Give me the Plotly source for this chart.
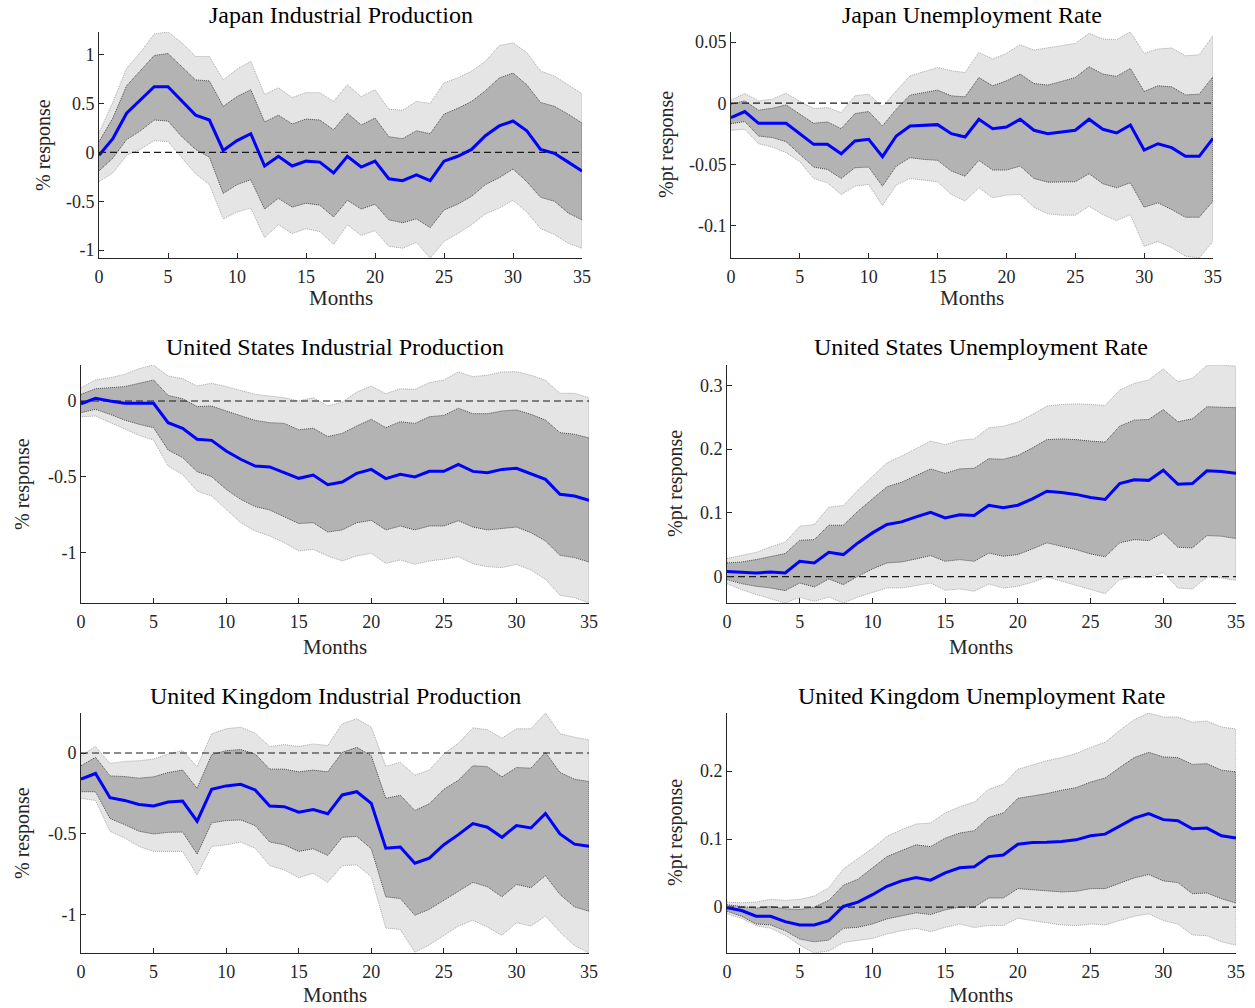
import plotly.graph_objects as go

months = list(range(36))
x_ticks = [0, 5, 10, 15, 20, 25, 30, 35]

# ---------------- Japan Industrial Production ----------------
jp_ip_med = [-0.03,0.14,0.40,0.53,0.67,0.67,0.52,0.38,0.33,0.02,0.12,0.19,-0.14,-0.04,-0.14,-0.09,-0.10,-0.21,-0.04,-0.15,-0.09,-0.27,-0.29,-0.23,-0.29,-0.09,-0.04,0.03,0.17,0.27,0.32,0.22,0.03,-0.01,-0.10,-0.19]
jp_ip_in_hi = [0.11,0.35,0.68,0.83,0.99,1.01,0.87,0.74,0.73,0.47,0.57,0.64,0.31,0.38,0.29,0.34,0.33,0.23,0.40,0.28,0.35,0.16,0.14,0.22,0.19,0.39,0.45,0.52,0.63,0.76,0.81,0.69,0.51,0.47,0.39,0.30]
jp_ip_in_lo = [-0.19,-0.06,0.13,0.22,0.33,0.32,0.16,0.03,-0.05,-0.42,-0.33,-0.28,-0.58,-0.47,-0.56,-0.52,-0.54,-0.66,-0.49,-0.58,-0.53,-0.69,-0.72,-0.68,-0.77,-0.59,-0.53,-0.45,-0.33,-0.26,-0.17,-0.30,-0.46,-0.50,-0.62,-0.69]
jp_ip_out_hi = [0.20,0.51,0.86,1.02,1.21,1.23,1.12,0.98,0.98,0.74,0.85,0.93,0.59,0.66,0.56,0.61,0.61,0.52,0.69,0.57,0.64,0.44,0.43,0.52,0.50,0.71,0.76,0.83,0.93,1.09,1.12,1.02,0.83,0.78,0.69,0.60]
jp_ip_out_lo = [-0.30,-0.21,-0.03,0.03,0.12,0.11,-0.06,-0.22,-0.33,-0.68,-0.61,-0.57,-0.87,-0.74,-0.83,-0.78,-0.81,-0.94,-0.74,-0.85,-0.80,-0.96,-0.98,-0.92,-1.08,-0.91,-0.83,-0.74,-0.63,-0.57,-0.49,-0.61,-0.78,-0.84,-0.93,-0.98]
jp_ip_yticks = [-1, -0.5, 0, 0.5, 1]
jp_ip_ylabels = ["-1", "-0.5", "0", "0.5", "1"]

# ---------------- Japan Unemployment Rate ----------------
jp_ur_med = [-0.0117,-0.0068,-0.0164,-0.0164,-0.0164,-0.0249,-0.0336,-0.0336,-0.0413,-0.0309,-0.0295,-0.0437,-0.0268,-0.0186,-0.018,-0.0175,-0.0249,-0.0276,-0.0131,-0.0208,-0.0194,-0.0131,-0.0221,-0.0249,-0.0235,-0.0221,-0.0131,-0.0213,-0.0243,-0.0178,-0.0383,-0.0331,-0.0363,-0.0434,-0.0434,-0.0287]
jp_ur_in_hi = [-0.0008,0.0019,-0.0057,-0.0041,-0.0014,-0.009,-0.0164,-0.0153,-0.0208,-0.0085,-0.0068,-0.0186,-0.0049,0.0066,0.0087,0.0107,0.006,0.0052,0.021,0.0142,0.0183,0.0238,0.0161,0.0148,0.0178,0.021,0.0298,0.0238,0.0219,0.0284,0.0096,0.0142,0.0134,0.0068,0.0074,0.0216]
jp_ur_in_lo = [-0.0167,-0.015,-0.0268,-0.0281,-0.0314,-0.0418,-0.0522,-0.0541,-0.0615,-0.0527,-0.0522,-0.0678,-0.0514,-0.0445,-0.0459,-0.0467,-0.0555,-0.0596,-0.0467,-0.0546,-0.0546,-0.0514,-0.0615,-0.0645,-0.0642,-0.0642,-0.0576,-0.0658,-0.0691,-0.065,-0.085,-0.0814,-0.0869,-0.0932,-0.0932,-0.080]
jp_ur_out_hi = [0.0025,0.0079,0.0019,0.0033,0.0082,0.0014,-0.0044,-0.0036,-0.0077,0.006,0.0074,-0.003,0.0101,0.0224,0.0257,0.0292,0.0265,0.0251,0.0415,0.0361,0.0407,0.0478,0.0434,0.0451,0.047,0.0489,0.0571,0.0525,0.0519,0.0582,0.0407,0.0443,0.0451,0.0388,0.0396,0.0552]
jp_ur_out_lo = [-0.0221,-0.0213,-0.0331,-0.0358,-0.0404,-0.0478,-0.0615,-0.065,-0.0746,-0.0678,-0.0664,-0.0836,-0.0669,-0.0615,-0.0631,-0.0642,-0.0746,-0.080,-0.0691,-0.0773,-0.0751,-0.0746,-0.085,-0.0904,-0.0915,-0.0915,-0.0842,-0.091,-0.0959,-0.091,-0.117,-0.113,-0.118,-0.125,-0.1265,-0.113]
jp_ur_yticks = [-0.1, -0.05, 0, 0.05]
jp_ur_ylabels = ["-0.1", "-0.05", "0", "0.05"]

# ---------------- United States Industrial Production ----------------
us_ip_med = [-0.018,0.018,0,-0.015,-0.015,-0.015,-0.143,-0.18,-0.253,-0.26,-0.33,-0.385,-0.43,-0.436,-0.474,-0.511,-0.489,-0.553,-0.535,-0.478,-0.452,-0.513,-0.485,-0.502,-0.465,-0.465,-0.419,-0.465,-0.474,-0.452,-0.445,-0.48,-0.518,-0.617,-0.628,-0.656]
us_ip_in_hi = [0.044,0.081,0.088,0.095,0.117,0.139,0.037,0.015,-0.037,-0.033,-0.066,-0.099,-0.128,-0.143,-0.148,-0.19,-0.18,-0.235,-0.214,-0.165,-0.121,-0.176,-0.137,-0.148,-0.104,-0.095,-0.048,-0.084,-0.084,-0.066,-0.059,-0.088,-0.126,-0.209,-0.22,-0.244]
us_ip_in_lo = [-0.077,-0.055,-0.088,-0.126,-0.154,-0.176,-0.324,-0.374,-0.467,-0.5,-0.584,-0.65,-0.698,-0.72,-0.764,-0.81,-0.804,-0.866,-0.852,-0.804,-0.789,-0.852,-0.826,-0.852,-0.826,-0.826,-0.791,-0.833,-0.852,-0.844,-0.833,-0.87,-0.925,-1.02,-1.035,-1.064]
us_ip_out_hi = [0.088,0.139,0.154,0.176,0.214,0.238,0.165,0.148,0.099,0.117,0.095,0.07,0.044,0.033,0.022,0,0.022,-0.033,-0.007,0.059,0.099,0.048,0.081,0.077,0.121,0.139,0.192,0.161,0.17,0.192,0.194,0.17,0.137,0.051,0.051,0.022]
us_ip_out_lo = [-0.104,-0.099,-0.139,-0.183,-0.227,-0.258,-0.43,-0.485,-0.595,-0.628,-0.716,-0.804,-0.859,-0.892,-0.936,-0.991,-0.98,-1.024,-1.057,-1.024,-1.007,-1.073,-1.051,-1.079,-1.057,-1.046,-1.029,-1.075,-1.095,-1.101,-1.079,-1.117,-1.178,-1.284,-1.3,-1.335]
us_ip_yticks = [-1, -0.5, 0]
us_ip_ylabels = ["-1", "-0.5", "0"]

# ---------------- United States Unemployment Rate ----------------
us_ur_med = [0.0079,0.0073,0.0058,0.0073,0.0058,0.024,0.0215,0.038,0.0346,0.0529,0.0686,0.0817,0.0859,0.0937,0.101,0.092,0.097,0.096,0.112,0.108,0.112,0.122,0.134,0.132,0.129,0.124,0.121,0.146,0.152,0.151,0.167,0.145,0.146,0.166,0.165,0.162]
us_ur_in_hi = [0.0215,0.023,0.0267,0.0319,0.0361,0.057,0.058,0.0806,0.0806,0.1026,0.122,0.141,0.148,0.1586,0.169,0.162,0.169,0.17,0.185,0.184,0.19,0.202,0.215,0.216,0.215,0.2126,0.211,0.236,0.2455,0.2466,0.262,0.243,0.2476,0.2665,0.266,0.265]
us_ur_in_lo = [-0.0047,-0.011,-0.0152,-0.0178,-0.022,-0.01,-0.0162,-0.0037,-0.0126,0.0005,0.012,0.0215,0.023,0.0277,0.033,0.024,0.0267,0.024,0.037,0.0319,0.0346,0.0435,0.053,0.0476,0.0424,0.0356,0.031,0.053,0.058,0.0565,0.0686,0.046,0.045,0.0644,0.0634,0.0597]
us_ur_out_hi = [0.0283,0.033,0.038,0.0466,0.054,0.079,0.0817,0.109,0.1115,0.1356,0.1576,0.1785,0.189,0.2005,0.2126,0.207,0.214,0.216,0.2335,0.236,0.2424,0.2545,0.2675,0.27,0.271,0.27,0.2686,0.2927,0.303,0.3084,0.326,0.3058,0.311,0.3314,0.332,0.330]
us_ur_out_lo = [-0.011,-0.0204,-0.028,-0.035,-0.0414,-0.0325,-0.0387,-0.032,-0.0414,-0.032,-0.0246,-0.0178,-0.0178,-0.0141,-0.01,-0.0215,-0.0194,-0.023,-0.0115,-0.0178,-0.0152,-0.0089,-0.0005,-0.0073,-0.0136,-0.0204,-0.0267,-0.0047,-0.0005,-0.002,0.0068,-0.0178,-0.0194,-0.0005,-0.002,-0.0058]
us_ur_yticks = [0, 0.1, 0.2, 0.3]
us_ur_ylabels = ["0", "0.1", "0.2", "0.3"]

# ---------------- United Kingdom Industrial Production ----------------
uk_ip_med = [-0.1625,-0.127,-0.277,-0.294,-0.319,-0.329,-0.304,-0.298,-0.423,-0.225,-0.204,-0.194,-0.229,-0.329,-0.333,-0.367,-0.35,-0.377,-0.26,-0.24,-0.3125,-0.59,-0.583,-0.683,-0.652,-0.569,-0.506,-0.4375,-0.46,-0.523,-0.45,-0.465,-0.375,-0.502,-0.565,-0.579]
uk_ip_in_hi = [-0.079,-0.027,-0.142,-0.146,-0.156,-0.148,-0.121,-0.106,-0.219,-0.0104,0.0146,0.021,-0.006,-0.1,-0.1,-0.117,-0.106,-0.117,0.004,0.035,-0.017,-0.281,-0.2625,-0.356,-0.315,-0.225,-0.169,-0.079,-0.085,-0.148,-0.09,-0.094,0.004,-0.121,-0.1625,-0.177]
uk_ip_in_lo = [-0.24,-0.24,-0.406,-0.444,-0.485,-0.502,-0.492,-0.49,-0.627,-0.433,-0.419,-0.415,-0.45,-0.552,-0.569,-0.61,-0.594,-0.635,-0.523,-0.517,-0.594,-0.892,-0.902,-1.006,-0.969,-0.9125,-0.856,-0.802,-0.829,-0.892,-0.815,-0.835,-0.76,-0.877,-0.954,-0.981]
uk_ip_out_hi = [-0.017,0.04,-0.065,-0.052,-0.048,-0.0375,-0.006,0.0146,-0.085,0.119,0.15,0.16,0.123,0.04,0.052,0.04,0.056,0.046,0.181,0.2125,0.16,-0.083,-0.058,-0.1375,-0.106,-0.006,0.06,0.156,0.144,0.092,0.15,0.15,0.248,0.119,0.098,0.081]
uk_ip_out_lo = [-0.281,-0.294,-0.485,-0.527,-0.579,-0.61,-0.61,-0.61,-0.756,-0.579,-0.569,-0.552,-0.59,-0.698,-0.725,-0.773,-0.746,-0.802,-0.698,-0.694,-0.767,-1.085,-1.094,-1.235,-1.19,-1.131,-1.073,-1.0375,-1.079,-1.131,-1.052,-1.073,-1.01,-1.11,-1.194,-1.24]
uk_ip_yticks = [-1, -0.5, 0]
uk_ip_ylabels = ["-1", "-0.5", "0"]

# ---------------- United Kingdom Unemployment Rate ----------------
uk_ur_med = [-0.001,-0.005,-0.0134,-0.0134,-0.0213,-0.0262,-0.0262,-0.0198,0.001,0.0074,0.0183,0.0307,0.0386,0.0436,0.0396,0.0505,0.0579,0.0594,0.0743,0.0767,0.0926,0.095,0.0955,0.0965,0.099,0.105,0.1074,0.1188,0.131,0.1376,0.1287,0.1272,0.1153,0.1163,0.105,0.1015]
uk_ur_in_hi = [0.0035,0.0015,-0.0015,0.001,-0.0025,-0.0035,0,0.0099,0.0322,0.041,0.057,0.0743,0.0832,0.0916,0.089,0.1015,0.109,0.1124,0.132,0.1386,0.16,0.163,0.167,0.172,0.1757,0.184,0.19,0.2054,0.22,0.2277,0.221,0.22,0.21,0.211,0.2015,0.199]
uk_ur_in_lo = [-0.006,-0.0134,-0.0248,-0.0262,-0.0347,-0.047,-0.051,-0.0485,-0.0312,-0.0297,-0.0248,-0.0173,-0.0124,-0.0084,-0.0109,-0.004,0,0,0.0134,0.0134,0.0272,0.0257,0.0238,0.0223,0.0233,0.0272,0.0272,0.0356,0.043,0.048,0.0386,0.0361,0.0198,0.0208,0.0124,0.0059]
uk_ur_out_hi = [0.0074,0.0064,0.0074,0.0114,0.0099,0.0114,0.0163,0.0282,0.056,0.0718,0.0866,0.104,0.1139,0.1223,0.1238,0.1386,0.1475,0.1545,0.1733,0.1807,0.203,0.209,0.2153,0.22,0.226,0.235,0.2426,0.26,0.2757,0.2856,0.2797,0.2797,0.272,0.2738,0.265,0.262]
uk_ur_out_lo = [-0.0099,-0.0163,-0.0272,-0.0312,-0.041,-0.056,-0.0675,-0.0644,-0.052,-0.0495,-0.046,-0.0396,-0.0347,-0.0312,-0.0361,-0.0297,-0.0248,-0.03,-0.027,-0.027,-0.0163,-0.0198,-0.0233,-0.0262,-0.0272,-0.0248,-0.0262,-0.0198,-0.0134,-0.0099,-0.0198,-0.0248,-0.041,-0.042,-0.051,-0.056]
uk_ur_yticks = [0, 0.1, 0.2]
uk_ur_ylabels = ["0", "0.1", "0.2"]

titles = ["Japan Industrial Production", "Japan Unemployment Rate",
          "United States Industrial Production", "United States Unemployment Rate",
          "United Kingdom Industrial Production", "United Kingdom Unemployment Rate"]
ylabels = ["% response", "%pt response", "% response", "%pt response", "% response", "%pt response"]
xlabel = "Months"

panels = [
    (jp_ip_med, jp_ip_in_lo, jp_ip_in_hi, jp_ip_out_lo, jp_ip_out_hi, jp_ip_yticks, jp_ip_ylabels),
    (jp_ur_med, jp_ur_in_lo, jp_ur_in_hi, jp_ur_out_lo, jp_ur_out_hi, jp_ur_yticks, jp_ur_ylabels),
    (us_ip_med, us_ip_in_lo, us_ip_in_hi, us_ip_out_lo, us_ip_out_hi, us_ip_yticks, us_ip_ylabels),
    (us_ur_med, us_ur_in_lo, us_ur_in_hi, us_ur_out_lo, us_ur_out_hi, us_ur_yticks, us_ur_ylabels),
    (uk_ip_med, uk_ip_in_lo, uk_ip_in_hi, uk_ip_out_lo, uk_ip_out_hi, uk_ip_yticks, uk_ip_ylabels),
    (uk_ur_med, uk_ur_in_lo, uk_ur_in_hi, uk_ur_out_lo, uk_ur_out_hi, uk_ur_yticks, uk_ur_ylabels),
]

# layout geometry (pixel boxes of each axes: left, right, top, bottom)
W, H = 1255, 1008
boxes = [
    (99, 582, 32, 258), (731, 1213, 32, 258),
    (81, 589, 365, 603), (727, 1236, 365, 603),
    (81, 589, 713, 953), (727, 1236, 713, 953),
]
ytitle_x = [44, 667, 22, 675, 22, 675]
xtitle_y = [298, 298, 647, 647, 995, 995]
title_y = [15, 15, 347, 347, 696, 696]

FONT = "Liberation Serif"
AX_COL = "#262626"
fig = go.Figure()
annotations = []

for i, (med, in_lo, in_hi, out_lo, out_hi, yt, ytl) in enumerate(panels):
    n = i + 1
    xa = "x" if n == 1 else f"x{n}"
    ya = "y" if n == 1 else f"y{n}"
    rev = months[::-1]
    # outer band
    fig.add_trace(go.Scatter(x=months + rev, y=out_hi + out_lo[::-1], fill="toself",
                             fillcolor="#e5e5e5", mode="lines",
                             line=dict(color="#a8a8a8", width=1, dash="1px,1px"),
                             xaxis=xa, yaxis=ya, showlegend=False, hoverinfo="skip"))
    # inner band
    fig.add_trace(go.Scatter(x=months + rev, y=in_hi + in_lo[::-1], fill="toself",
                             fillcolor="#b3b3b3", mode="lines",
                             line=dict(color="#4a4a4a", width=1, dash="1px,1px"),
                             xaxis=xa, yaxis=ya, showlegend=False, hoverinfo="skip"))
    # zero line
    fig.add_trace(go.Scatter(x=[months[0], months[-1]], y=[0, 0], mode="lines",
                             line=dict(color="#1a1a1a", width=1.2, dash="7px,4px"),
                             xaxis=xa, yaxis=ya, showlegend=False, hoverinfo="skip"))
    # median
    fig.add_trace(go.Scatter(x=months, y=med, mode="lines",
                             line=dict(color="#0000ff", width=3),
                             xaxis=xa, yaxis=ya, showlegend=False))

    l, r, t, b = boxes[i]
    ymin = min(out_lo)
    ymax = max(out_hi)
    axis_common = dict(showline=True, linecolor=AX_COL, linewidth=1, ticks="inside",
                       ticklen=5, tickcolor=AX_COL, tickwidth=1, showgrid=False,
                       zeroline=False, automargin=False,
                       tickfont=dict(family=FONT, size=18, color=AX_COL))
    fig.layout[("xaxis" if n == 1 else f"xaxis{n}")] = dict(
        domain=[l / W, r / W], anchor=ya, range=[months[0], months[-1]],
        tickvals=x_ticks, ticktext=[str(v) for v in x_ticks], ticklabelstandoff=2,
        **axis_common)
    fig.layout[("yaxis" if n == 1 else f"yaxis{n}")] = dict(
        domain=[1 - b / H, 1 - t / H], anchor=xa, range=[ymin, ymax],
        tickvals=yt, ticktext=ytl, **axis_common)

    cx = (l + r) / 2 / W
    annotations.append(dict(text=titles[i], x=cx, y=1 - title_y[i] / H, xref="paper", yref="paper",
                            xanchor="center", yanchor="middle", showarrow=False,
                            font=dict(family=FONT, size=24, color="#000000")))
    annotations.append(dict(text=xlabel, x=cx, y=1 - xtitle_y[i] / H, xref="paper", yref="paper",
                            xanchor="center", yanchor="middle", showarrow=False,
                            font=dict(family=FONT, size=21, color=AX_COL)))
    annotations.append(dict(text=ylabels[i], x=ytitle_x[i] / W, y=1 - (t + b) / 2 / H,
                            xref="paper", yref="paper", xanchor="center", yanchor="middle",
                            textangle=-90, showarrow=False,
                            font=dict(family=FONT, size=20, color=AX_COL)))

fig.update_layout(template="none", width=W, height=H, margin=dict(l=0, r=0, t=0, b=0, pad=0),
                  paper_bgcolor="white", plot_bgcolor="white",
                  annotations=annotations, showlegend=False)
fig.write_html("out.html")
